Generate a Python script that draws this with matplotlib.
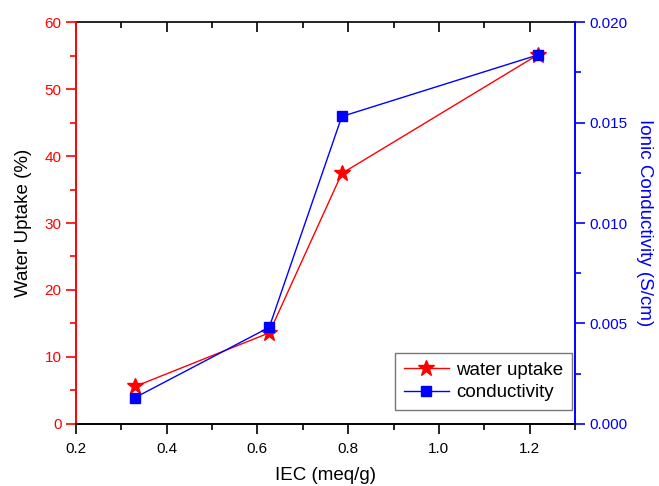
import matplotlib
matplotlib.use("Agg")
import matplotlib.pyplot as plt
from matplotlib.ticker import MultipleLocator

plt.rcParams['font.family'] = ['Liberation Sans', 'DejaVu Sans']

iec = [0.33, 0.626, 0.786, 1.218]
water_uptake = [5.6, 13.6, 37.4, 55.1]
conductivity = [0.00131, 0.00481, 0.0153, 0.01836]

red = '#ff0000'
blue = '#0000ff'

fig = plt.figure(figsize=(6.59, 4.86), dpi=100)
ax = fig.add_axes([0.1153, 0.1276, 0.7572, 0.8271])
ax2 = ax.twinx()

l1, = ax.plot(iec, water_uptake, color=red, lw=1, marker='*', ms=12,
              label='water uptake')
l2, = ax2.plot(iec, conductivity, color=blue, lw=1, marker='s', ms=7.5,
               label='conductivity')

ax.set_xlim(0.2, 1.3)
ax.set_ylim(0, 60)
ax2.set_ylim(0, 0.020)

ax.xaxis.set_major_locator(MultipleLocator(0.2))
ax.xaxis.set_minor_locator(MultipleLocator(0.1))
ax.yaxis.set_major_locator(MultipleLocator(10))
ax.yaxis.set_minor_locator(MultipleLocator(5))
ax2.yaxis.set_major_locator(MultipleLocator(0.005))
ax2.yaxis.set_minor_locator(MultipleLocator(0.0025))
ax2.yaxis.set_major_formatter(plt.FormatStrFormatter('%.3f'))
ax.xaxis.set_major_formatter(plt.FormatStrFormatter('%.1f'))

ax.tick_params(axis='x', which='major', direction='out', length=7, width=1.2,
               labelsize=11, pad=6)
ax.tick_params(axis='x', which='minor', direction='out', length=4, width=1.2)
ax.tick_params(axis='y', which='major', direction='out', length=7, width=1.2,
               colors=red, labelsize=11)
ax.tick_params(axis='y', which='minor', direction='out', length=4, width=1.2,
               colors=red)
ax2.tick_params(axis='y', which='major', direction='out', length=7, width=1.2,
                colors=blue, labelsize=11)
ax2.tick_params(axis='y', which='minor', direction='out', length=4, width=1.2,
                colors=blue)

top = ax.secondary_xaxis('top')
top.xaxis.set_major_locator(MultipleLocator(0.2))
top.xaxis.set_minor_locator(MultipleLocator(0.1))
top.tick_params(which='major', direction='in', length=7, width=1.2, labeltop=False)
top.tick_params(which='minor', direction='in', length=4, width=1.2)
top.spines['top'].set_linewidth(1.2)

for a in (ax, ax2):
    a.spines['left'].set_color(red)
    a.spines['right'].set_color(blue)
    a.spines['left'].set_linewidth(1.2)
    a.spines['right'].set_linewidth(1.2)
    a.spines['bottom'].set_linewidth(1.2)
    a.spines['top'].set_visible(False)

ax.set_xlabel('IEC (meq/g)', fontsize=13.5, labelpad=8)
ax.set_ylabel('Water Uptake (%)', fontsize=13.5, labelpad=9)
ax2.set_ylabel('Ionic Conductivity (S/cm)', fontsize=13.5, color=blue,
               rotation=270, labelpad=18)

leg = ax2.legend(handles=[l1, l2], loc='lower right',
                 bbox_to_anchor=(0.994, 0.035), borderaxespad=0,
                 fontsize=13.5, frameon=True, fancybox=False,
                 edgecolor='#555555', handlelength=2.4, handletextpad=0.4,
                 labelspacing=0.3, borderpad=0.45)
leg.get_frame().set_linewidth(1)

fig.savefig('out.png', dpi=100)
